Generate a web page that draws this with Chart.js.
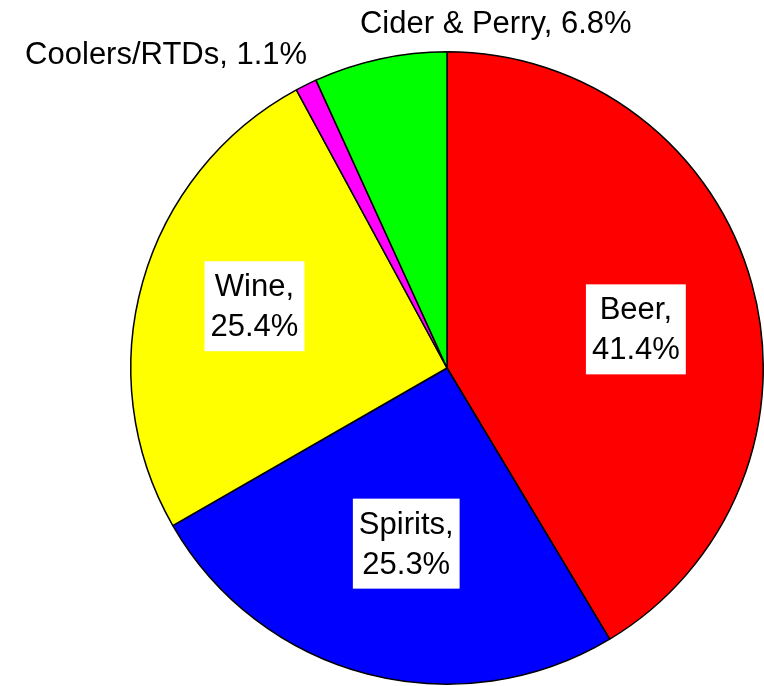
<!DOCTYPE html>
<html lang="en">
<head>
    <meta charset="UTF-8">
    <title>Alcohol Sales Share</title>
    <script src="https://cdn.jsdelivr.net/npm/chart.js"></script>
    <style>
        body { margin: 0; background: #ffffff; }
        canvas { display: block; }
    </style>
</head>
<body>
    <canvas id="pieChart" width="764" height="686"></canvas>

    <script>
        const categories = ['Beer', 'Spirits', 'Wine', 'Coolers/RTDs', 'Cider & Perry'];
        const shares = [41.4, 25.3, 25.4, 1.1, 6.8];
        const sliceColors = ['#ff0000', '#0000ff', '#ffff00', '#ff00ff', '#00ff00'];

        // label placement: inside ones get a white box, small slices sit outside the rim
        const labelStyle = [
            { inside: true, dx: 6, dy: 12 },
            { inside: true, dx: 7, dy: -8 },
            { inside: true, dx: -10, dy: -10 },
            { inside: false, dx: 1, dy: -21, align: 'right' },
            { inside: false, dx: -20, dy: -26, align: 'left' }
        ];

        const labelFont = '31px "Liberation Sans", Arial, sans-serif';
        const lineGap = 40;

        const sliceLabels = {
            id: 'sliceLabels',
            afterDatasetsDraw(chart) {
                const ctx = chart.ctx;
                const arcs = chart.getDatasetMeta(0).data;
                ctx.save();
                ctx.font = labelFont;
                ctx.textBaseline = 'alphabetic';
                arcs.forEach((arc, i) => {
                    const p = arc.getProps(['x', 'y', 'startAngle', 'endAngle', 'outerRadius']);
                    const mid = (p.startAngle + p.endAngle) / 2;
                    const s = labelStyle[i];
                    const pct = shares[i].toFixed(1) + '%';
                    if (s.inside) {
                        const lines = [categories[i] + ',', pct];
                        const r = p.outerRadius * 0.6;
                        const cx = p.x + Math.cos(mid) * r + s.dx;
                        const cy = p.y + Math.sin(mid) * r + s.dy;
                        const w = Math.max(...lines.map(l => ctx.measureText(l).width)) + 12;
                        const h = 90;
                        ctx.fillStyle = '#ffffff';
                        ctx.fillRect(cx - w / 2, cy - h / 2, w, h);
                        ctx.fillStyle = '#000000';
                        ctx.textAlign = 'center';
                        ctx.fillText(lines[0], cx, cy - 10);
                        ctx.fillText(lines[1], cx, cy - 10 + lineGap);
                    } else {
                        const ex = p.x + Math.cos(mid) * p.outerRadius;
                        const ey = p.y + Math.sin(mid) * p.outerRadius;
                        ctx.fillStyle = '#000000';
                        ctx.textAlign = s.align;
                        ctx.fillText(categories[i] + ', ' + pct, ex + s.dx, ey + s.dy);
                    }
                });
                ctx.restore();
            }
        };

        new Chart(document.getElementById('pieChart').getContext('2d'), {
            type: 'pie',
            data: {
                labels: categories,
                datasets: [{
                    data: shares,
                    backgroundColor: sliceColors,
                    borderColor: '#000000',
                    borderWidth: 1.5
                }]
            },
            options: {
                responsive: false,
                animation: false,
                layout: { padding: { left: 130, top: 50, right: 0, bottom: 0 } },
                plugins: {
                    legend: { display: false },
                    tooltip: { enabled: false }
                }
            },
            plugins: [sliceLabels]
        });
    </script>
</body>
</html>
